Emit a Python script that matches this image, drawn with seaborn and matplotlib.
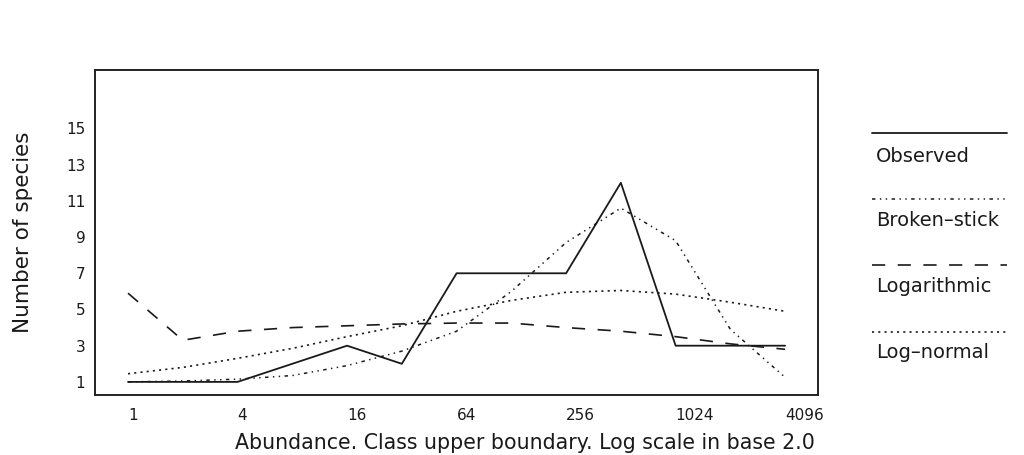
"""
Species abundance distribution: observed vs. fitted models
Log2 abundance classes on x, number of species on y
"""

import numpy as np
import pandas as pd
import matplotlib
matplotlib.use("Agg")
import matplotlib.pyplot as plt
from matplotlib.lines import Line2D
import seaborn as sns

# observed octave classes (upper boundary) and species counts
observed_x = [1, 4, 16, 32, 64, 256, 512, 1024, 4096]
observed_y = [1, 1, 3, 2, 7, 7, 12, 3, 3]

# fitted models, evaluated at every octave 1..4096
model_x = [1, 2, 4, 8, 16, 32, 64, 128, 256, 512, 1024, 2048, 4096]
broken_stick = [1.0, 1.05, 1.15, 1.35, 1.9, 2.7, 3.8, 6.0, 8.7, 10.6, 8.8, 3.9, 1.25]
logarithmic = [5.9, 3.3, 3.8, 4.0, 4.1, 4.2, 4.25, 4.25, 4.0, 3.8, 3.5, 3.1, 2.8]
log_normal = [1.45, 1.8, 2.3, 2.85, 3.5, 4.1, 4.9, 5.5, 5.95, 6.05, 5.85, 5.4, 4.9]

x_ticks = [1, 4, 16, 64, 256, 1024, 4096]
y_ticks = [1, 3, 5, 7, 9, 11, 13, 15]

series_names = ["Observed", "Broken–stick", "Logarithmic", "Log–normal"]

# line styles in points (not scaled by linewidth)
styles = {
    "Observed": dict(dashes="", lw=1.3),
    "Broken–stick": dict(dashes=(2.5, 3.2, 1, 3.2, 1, 3.2), lw=1.1),
    "Logarithmic": dict(dashes=(9.5, 9), lw=1.2),
    "Log–normal": dict(dashes=(1.5, 3.0), lw=1.2),
}

df = pd.concat([
    pd.DataFrame({"abundance": observed_x, "species": observed_y, "series": series_names[0]}),
    pd.DataFrame({"abundance": model_x, "species": broken_stick, "series": series_names[1]}),
    pd.DataFrame({"abundance": model_x, "species": logarithmic, "series": series_names[2]}),
    pd.DataFrame({"abundance": model_x, "species": log_normal, "series": series_names[3]}),
])

sns.set_style("white")
plt.rcParams["font.family"] = ["DejaVu Sans"]
plt.rcParams["lines.scale_dashes"] = False

ink = "#1a1a1a"

fig = plt.figure(figsize=(10.24, 4.55), dpi=100)
ax = fig.add_axes([95 / 1024, 1 - 395 / 455, 723 / 1024, 325 / 455])

for name in series_names:
    st = styles[name]
    sub = df[df["series"] == name]
    sns.lineplot(data=sub, x="abundance", y="species", ax=ax, color=ink,
                 linewidth=st["lw"], estimator=None, sort=False, legend=False)
    line = ax.get_lines()[-1]
    if st["dashes"]:
        line.set_dashes(st["dashes"])

ax.set_xscale("log", base=2)
ax.set_xlim(2 ** -0.603, 2 ** 12.60)
ax.set_ylim(0.276, 18.23)

ax.set_xticks(x_ticks)
ax.set_xticklabels([str(t) for t in x_ticks], ha="left")
ax.minorticks_off()
ax.set_yticks(y_ticks)
ax.set_yticklabels([str(t) for t in y_ticks])
ax.tick_params(axis="x", length=0, pad=9, labelsize=11, colors=ink)
ax.tick_params(axis="y", length=0, pad=7, labelsize=11, colors=ink)

ax.set_xlabel("Abundance. Class upper boundary. Log scale in base 2.0",
              fontsize=14.8, color=ink, va="top")
ax.xaxis.set_label_coords((525 - 95) / 723, -0.118)
ax.set_ylabel("Number of species", fontsize=15.5, color=ink)
ax.yaxis.set_label_coords(-0.086, 0.5)

for sp in ax.spines.values():
    sp.set_visible(True)
    sp.set_color("#222222")
    sp.set_linewidth(1.4)

# legend: sample line above each label, right of the plot
legend_rows = [(133, 157), (199, 220), (265, 287), (332, 353)]
for name, (ly, ty) in zip(series_names, legend_rows):
    st = styles[name]
    ln = Line2D([872 / 1024, 1007 / 1024], [1 - ly / 455, 1 - ly / 455],
                transform=fig.transFigure, color=ink, linewidth=st["lw"])
    if st["dashes"]:
        ln.set_dashes(st["dashes"])
    fig.add_artist(ln)
    fig.text(876 / 1024, 1 - ty / 455, name, fontsize=14, color=ink,
             ha="left", va="center")

plt.savefig("out.png", dpi=100)
plt.close()
